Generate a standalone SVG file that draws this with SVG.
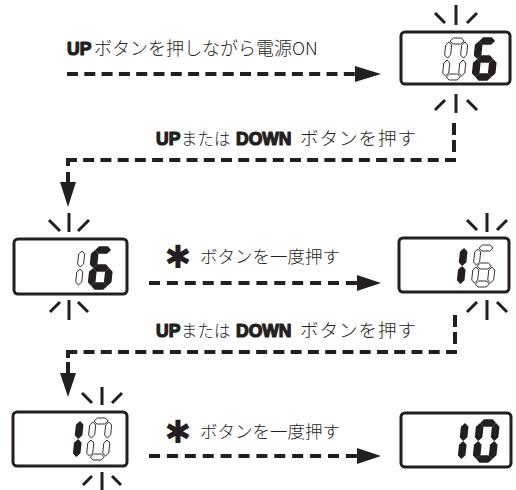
<svg xmlns="http://www.w3.org/2000/svg" xmlns:xlink="http://www.w3.org/1999/xlink" width="516" height="490" viewBox="0 0 516 490">
<style>
.lcd{fill:#fff;stroke:#231f20;stroke-width:3}
.ray{stroke:#231f20;stroke-width:3;fill:none}
.on{fill:#231f20;stroke:#231f20;stroke-width:1.6;stroke-linejoin:round}
.off{fill:#fff;stroke:#231f20;stroke-width:0.9}
.dash{stroke:#231f20;stroke-width:4;fill:none}
.solid{stroke:#231f20;stroke-width:4;fill:none}
.head{fill:#231f20}
.jp{font-family:"Noto Sans CJK JP","Noto Sans",sans-serif;font-size:17.5px;font-weight:300;fill:#231f20}
.b{font-family:"Liberation Sans",Arial,sans-serif;font-weight:bold;font-size:17.5px;stroke:#231f20;stroke-width:1.2;stroke-linejoin:round}
.ast{font-family:"DejaVu Sans",sans-serif;font-size:32px;fill:#231f20;text-anchor:middle}
</style>
<defs>
<polygon id="sa" points="4,3 7,0 15,0 18,3 15,6 7,6"/>
<polygon id="sg" points="4,21 7,18 15,18 18,21 15,24 7,24"/>
<polygon id="sd" points="4,39 7,36 15,36 18,39 15,42 7,42"/>
<polygon id="sf" points="3,4 6,7 6,17 3,20 0,17 0,7"/>
<polygon id="se" points="3,22 6,25 6,35 3,38 0,35 0,25"/>
<polygon id="sb" points="19,4 22,7 22,17 19,20 16,17 16,7"/>
<polygon id="sc" points="19,22 22,25 22,35 19,38 16,35 16,25"/>
</defs>

<g id="connectors">
  <path class="dash" d="M67,74 H355" stroke-dasharray="11 6.3"/>
  <polygon class="head" points="355,66 381,74 355,82"/>

  <path class="dash" d="M454,123 V153" stroke-dasharray="12 5"/>
  <path class="dash" d="M456,160 H66" stroke-dasharray="11 6.23"/>
  <path class="solid" d="M68,158 V166 M68,172 V182"/>
  <polygon class="head" points="60,182 76,182 68,207"/>

  <path class="dash" d="M149,283 H357" stroke-dasharray="11 6.9"/>
  <polygon class="head" points="357,275 381,283 357,291"/>

  <path class="dash" d="M455,315 V345" stroke-dasharray="12 5"/>
  <path class="dash" d="M457,352 H66" stroke-dasharray="11 6.26"/>
  <path class="solid" d="M68,350 V358 M68,362 V373"/>
  <polygon class="head" points="60,373 76,373 68,397"/>

  <path class="dash" d="M149,456 H357" stroke-dasharray="11 6.9"/>
  <polygon class="head" points="357,448 381,456 357,464"/>
</g>

<g id="labels">
  <text class="jp" y="55"><tspan class="b" x="67">UP</tspan><tspan x="94" font-size="18px">ボタンを押しながら電源ON</tspan></text>
  <text class="jp" y="145"><tspan class="b" x="156">UP</tspan><tspan x="181" font-size="16.5px">または</tspan><tspan class="b" x="236">DOWN</tspan><tspan x="300" font-size="18.5px" textLength="116">ボタンを押す</tspan></text>
  <text class="ast" x="178" y="268">✱</text>
  <text class="jp" x="200" y="263">ボタンを一度押す</text>
  <text class="jp" y="337"><tspan class="b" x="156">UP</tspan><tspan x="181" font-size="16.5px">または</tspan><tspan class="b" x="236">DOWN</tspan><tspan x="300" font-size="18.5px" textLength="116">ボタンを押す</tspan></text>
  <text class="ast" x="178" y="443">✱</text>
  <text class="jp" x="200" y="438">ボタンを一度押す</text>
</g>

<g id="display1">
  <rect class="lcd" x="401" y="32" width="109" height="52" rx="4"/>
  <g transform="translate(446.4,38) skewX(-6)">
    <use href="#sa" class="off"/><use href="#sb" class="off"/><use href="#sc" class="off"/><use href="#sd" class="off"/><use href="#se" class="off"/><use href="#sf" class="off"/>
  </g>
  <g transform="translate(476.4,38) skewX(-6)">
    <use href="#sa" class="on"/><use href="#sc" class="on"/><use href="#sd" class="on"/><use href="#se" class="on"/><use href="#sf" class="on"/><use href="#sg" class="on"/>
  </g>
  <path class="ray" d="M456,5 V25 M435,13 L445,23 M477,13 L467,23 M456,94 V113 M435,110 L445,100 M477,110 L467,100"/>
</g>

<g id="display2">
  <rect class="lcd" x="14" y="239" width="113" height="55" rx="4"/>
  <g transform="translate(63.4,247) skewX(-6)">
    <use href="#sb" class="off"/><use href="#sc" class="off"/>
  </g>
  <g transform="translate(92.4,247) skewX(-6)">
    <use href="#sa" class="on"/><use href="#sc" class="on"/><use href="#sd" class="on"/><use href="#se" class="on"/><use href="#sf" class="on"/><use href="#sg" class="on"/>
  </g>
  <path class="ray" d="M69,213 V232 M49,220 L60,231 M89,220 L78,231 M69,300 V320 M50,312 L60,302 M88,312 L78,302"/>
</g>

<g id="display3">
  <rect class="lcd" x="399" y="238" width="110" height="54" rx="4"/>
  <g transform="translate(445.4,245) skewX(-6)">
    <use href="#sb" class="on"/><use href="#sc" class="on"/>
  </g>
  <g transform="translate(475.4,245) skewX(-6)">
    <use href="#sa" class="off"/><use href="#sc" class="off"/><use href="#sd" class="off"/><use href="#se" class="off"/><use href="#sf" class="off"/><use href="#sg" class="off"/>
  </g>
  <path class="ray" d="M487,213 V232 M467,220 L477,230 M507,220 L497,230 M487,300 V320 M467,312 L477,302 M507,312 L497,302"/>
</g>

<g id="display4">
  <rect class="lcd" x="13" y="412" width="114" height="54" rx="4"/>
  <g transform="translate(61.4,418) skewX(-6)">
    <use href="#sb" class="on"/><use href="#sc" class="on"/>
  </g>
  <g transform="translate(90.4,418) skewX(-6)">
    <use href="#sa" class="off"/><use href="#sb" class="off"/><use href="#sc" class="off"/><use href="#sd" class="off"/><use href="#se" class="off"/><use href="#sf" class="off"/>
  </g>
  <path class="ray" d="M102,387 V405 M82,393 L92,403 M122,393 L112,403 M102,472 V490 M83,485 L92,476 M121,485 L112,476"/>
</g>

<g id="display5">
  <rect class="lcd" x="401" y="413" width="110" height="54" rx="4"/>
  <g transform="translate(446.4,420) skewX(-6)">
    <use href="#sb" class="on"/><use href="#sc" class="on"/>
  </g>
  <g transform="translate(477.4,420) skewX(-6)">
    <use href="#sa" class="on"/><use href="#sb" class="on"/><use href="#sc" class="on"/><use href="#sd" class="on"/><use href="#se" class="on"/><use href="#sf" class="on"/>
  </g>
</g>
</svg>
